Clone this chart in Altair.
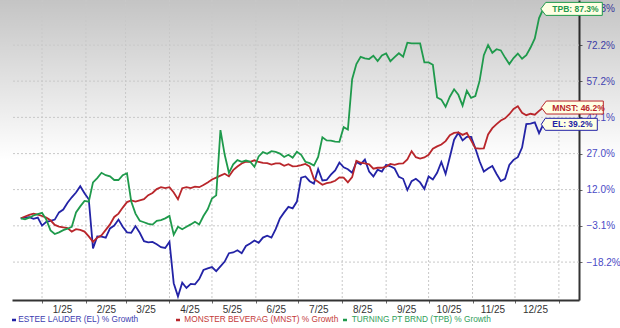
import altair as alt
import pandas as pd

# ---- data ----
n_points = 124
dates = pd.date_range("2024-12-17", periods=n_points, freq="3D").strftime("%Y-%m-%d").tolist()

el = [0, 0.3, 0.5, -0.2, 0.3, -3.0, -1.4, -1.0, -0.5, 2.5,
      3.7, 6.5, 8.8, 10.8, 13.4, 10.5, 8.0, -12.5, -7.5, -7.6,
      -8.0, -4.2, -3.0, -0.5, -3.5, -5.8, -6.0, -3.2, -6.0, -9.5,
      -10.0, -9.8, -10.8, -12.0, -12.3, -9.7, -27.0, -32.5, -26.8, -29.0,
      -27.3, -27.5, -25.3, -21.5, -20.8, -20.3, -22.0, -20.0, -18.0, -14.5,
      -14.2, -13.3, -14.5, -11.5, -10.5, -9.2, -10.2, -8.0, -7.2, -8.0,
      -4.5, 0.0, 2.5, 4.8, 4.2, 7.0, 17.0, 17.5, 15.5, 14.5,
      20.5, 15.8, 16.0, 18.2, 20.0, 23.3, 21.3, 20.5, 19.0, 23.5,
      22.5, 24.5, 19.5, 17.5, 20.3, 19.5, 22.3, 21.7, 20.8, 17.3,
      16.5, 11.8, 15.5, 16.5, 15.0, 12.3, 17.5, 16.2, 19.0, 23.5,
      18.5, 25.6, 32.8, 35.7, 32.5, 34.0, 34.0, 29.2, 23.8, 19.5,
      20.8, 21.8, 18.5, 15.6, 16.5, 22.3, 24.4, 25.5, 29.5, 39.3,
      39.5, 40.0, 35.5, 39.2]

mnst = [0, 0.8, 1.5, 2.0, 1.6, 1.0, 0.3, -0.8, -2.7, -3.4,
        -3.7, -4.0, -5.5, -4.5, -4.8, -5.5, -7.5, -9.8, -8.0, -7.0,
        -4.8, -2.5, 0.6, 2.0, 4.5, 6.8, 7.5, 7.0, 7.5, 8.0,
        9.7, 10.6, 12.2, 13.0, 12.6, 13.0, 10.8, 8.0, 12.6, 13.0,
        12.6, 13.2, 13.0, 13.9, 15.0, 16.2, 17.0, 17.8, 18.6, 17.5,
        20.1, 21.6, 22.9, 23.6, 23.6, 24.2, 23.5, 23.1, 23.0, 22.4,
        22.9, 22.9, 21.9, 22.6, 21.7, 21.8, 22.2, 22.7, 21.6, 16.5,
        15.3, 14.0, 14.7, 15.0, 15.7, 17.1, 17.0, 15.0, 17.2, 24.0,
        23.2, 22.9, 22.5, 20.7, 21.1, 21.1, 21.6, 22.7, 22.3, 22.8,
        22.9, 24.6, 28.0, 25.5, 24.9, 25.4, 26.5, 29.0, 30.0, 30.8,
        32.2, 34.7, 35.6, 35.8, 34.8, 35.6, 32.5, 29.3, 29.1, 29.2,
        35.0, 37.6, 39.3, 40.8, 41.7, 43.4, 45.6, 46.7, 44.0, 43.0,
        43.6, 43.2, 44.8, 46.2]

tpb = [0, -0.4, 0.3, 1.2, 1.8, 2.3, -0.5, -5.0, -6.5, -5.8,
       -4.9, -4.3, -3.5, 2.5, 5.0, 7.3, 7.0, 15.0, 16.8, 19.0,
       18.0, 17.5, 16.0, 16.0, 18.0, 18.8, 7.0, 2.0, -1.0, -1.6,
       -2.3, -2.6, -1.0, -0.7, 0.0, 1.0, -6.8, -3.5, -4.5, -3.5,
       -2.5, -1.4, -2.5, 1.0, 3.8, 8.3, 9.6, 36.8, 26.5, 19.0,
       22.5, 24.3, 23.6, 24.1, 23.6, 21.5, 25.8, 27.6, 26.9, 28.0,
       27.7, 27.0, 25.6, 26.5, 25.3, 27.8, 26.5, 23.6, 23.0, 22.0,
       25.6, 33.8, 32.5, 32.4, 32.0, 31.9, 38.0, 37.0, 58.0, 64.3,
       67.3, 66.7, 66.4, 67.8, 65.6, 67.9, 68.7, 65.5, 67.2, 68.8,
       67.4, 73.2, 72.9, 72.9, 72.9, 65.0, 65.0, 64.0, 50.4, 49.5,
       46.5, 50.7, 53.8, 51.5, 47.0, 53.2, 50.2, 51.0, 57.3, 68.0,
       72.2, 69.0, 70.5, 70.0, 67.0, 64.3, 66.8, 68.7, 66.5, 68.0,
       71.2, 75.0, 83.5, 87.3]

series_names = ["ESTEE LAUDER (EL) % Growth",
                "MONSTER BEVERAG (MNST) % Growth",
                "TURNING PT BRND (TPB) % Growth"]
short_names = ["EL", "MNST", "TPB"]
line_colors = ["#2323a6", "#b9262b", "#1f9a4c"]
legend_colors = ["#3c3cb0", "#c43a3a", "#2f9e5a"]

y_ticks = [-18.2, -3.1, 12.0, 27.0, 42.1, 57.2, 72.2, 87.3]
grid_y = [-18.2, -3.1, 12.0, 27.0, 42.1, 57.2, 72.2]
month_starts = ["2025-%02d-01" % m for m in range(1, 13)] + ["2026-01-01"]

# box shapes (tag with a small pointer), one per series
box_paths = [
    "M-0.2,0 L0.2,-0.6 L5.4,-0.6 L5.4,0.6 L0.2,0.6 Z",
    "M-0.2,0 L0.3,-0.65 L6.0,-0.65 L6.0,0.65 L0.3,0.65 Z",
    "M-0.25,0 L0.25,-0.65 L5.9,-0.65 L5.9,0.65 L0.25,0.65 Z",
]

# ---- tables ----
rows = []
for name, vals in zip(series_names, [el, mnst, tpb]):
    for d, v in zip(dates, vals):
        rows.append({"date": d, "value": v, "series": name})
df = pd.DataFrame(rows)

last = pd.DataFrame({
    "date": [dates[-1]] * 3,
    "value": [el[-1], mnst[-1], tpb[-1]],
    "series": series_names,
    "label": ["%s: %.1f%%" % (s, v) for s, v in zip(short_names, [el[-1], mnst[-1], tpb[-1]])],
})
grid_y_df = pd.DataFrame({"value": grid_y})
grid_x_df = pd.DataFrame({"date": month_starts})

FONT = "Liberation Sans"

x_scale = alt.Scale(type="utc",
                    domain=[alt.DateTime(year=2024, month=12, date=10, hours=19, utc=True),
                            alt.DateTime(year=2026, month=1, date=15, hours=5, utc=True)])
y_scale = alt.Scale(domain=[-34, 91], nice=False, zero=False)

x_axis = alt.Axis(
    values=[alt.DateTime(year=int(s[:4]), month=int(s[5:7]), date=1, utc=True) for s in month_starts],
    labelExpr="utcyear(datum.value) > 2025 ? '' : utcFormat(datum.value, '%-m/%y')",
    grid=False, title=None, domainColor="#333333", domainWidth=2,
    tickColor="#666666", tickSize=3, labelColor="#333333", labelFont=FONT,
    labelFontSize=10, labelOffset=20, labelPadding=1, labelFlush=False,
    labelOverlap=False)
y_axis = alt.Axis(
    orient="right", values=y_ticks,
    labelExpr="format(datum.value, '.1f') + '%'",
    grid=False, title=None, domainColor="#333333", domainWidth=2,
    tickColor="#666666", tickSize=3, labelColor="#4a4ac6", labelFont=FONT,
    labelFontSize=10, labelPadding=4)

X = alt.X("date:T", scale=x_scale, axis=x_axis)
Y = alt.Y("value:Q", scale=y_scale, axis=y_axis)

gradient = alt.LinearGradient(
    gradient="linear",
    stops=[alt.GradientStop(offset=0, color="rgba(0,0,0,0.23)"),
           alt.GradientStop(offset=1, color="rgba(0,0,0,0)")],
    x1=0, x2=0, y1=0, y2=1)

bg = alt.Chart(pd.DataFrame({"k": [0]})).mark_rect(fill=gradient).encode(
    x=alt.value(-12), x2=alt.value(608), y=alt.value(0), y2=alt.value(160))

hgrid = alt.Chart(grid_y_df).mark_rule(color="#c8c8c8", strokeDash=[2, 2], strokeWidth=1).encode(y=Y)
vgrid = alt.Chart(grid_x_df).mark_rule(color="#c8c8c8", strokeDash=[2, 2], strokeWidth=1).encode(x=X)

lines = alt.Chart(df).mark_line(strokeWidth=1.8).encode(
    x=X, y=Y,
    color=alt.Color("series:N", scale=alt.Scale(domain=series_names, range=line_colors), legend=None),
)

boxes = alt.Chart(last).mark_point(filled=True, size=400, opacity=1, strokeWidth=1).encode(
    x=X, y=Y,
    shape=alt.Shape("series:N", scale=alt.Scale(domain=series_names, range=box_paths), legend=None),
    stroke=alt.Stroke("series:N", scale=alt.Scale(domain=series_names, range=line_colors), legend=None),
    fill=alt.value("#ffffe4"),
)

labels = alt.Chart(last).mark_text(align="left", baseline="middle", dx=9, fontSize=8.5,
                                    fontWeight="bold", font=FONT).encode(
    x=X, y=Y, text="label:N",
    fill=alt.Fill("series:N", scale=alt.Scale(domain=series_names, range=line_colors), legend=None),
)

# ---- legend row under the axis (key dash + coloured text per series) ----
legend_text_x = [6.3, 172.3, 339.7]
legend_key_x = [0.0, 164.0, 331.0]
legend_layers = []
for i, name in enumerate(series_names):
    key = alt.Chart(pd.DataFrame({"k": [0]})).mark_rule(
        color=line_colors[i], strokeWidth=2.5).encode(
        x=alt.value(legend_key_x[i]), x2=alt.value(legend_key_x[i] + 4), y=alt.value(320))
    txt = alt.Chart(pd.DataFrame({"t": [name]})).mark_text(
        align="left", baseline="middle", fontSize=8.3, font=FONT, color=legend_colors[i]).encode(
        text="t:N", x=alt.value(legend_text_x[i]), y=alt.value(320))
    legend_layers += [key, txt]

chart = alt.layer(bg, hgrid, vgrid, lines, boxes, labels, *legend_layers).properties(
    width=567, height=300,
    padding={"left": 12, "top": 0, "right": 41, "bottom": 28},
    autosize=alt.AutoSizeParams(type="none"),
    background="white",
).configure_view(stroke=None)

chart.save("out.html", embed_options={"renderer": "svg", "actions": False})
